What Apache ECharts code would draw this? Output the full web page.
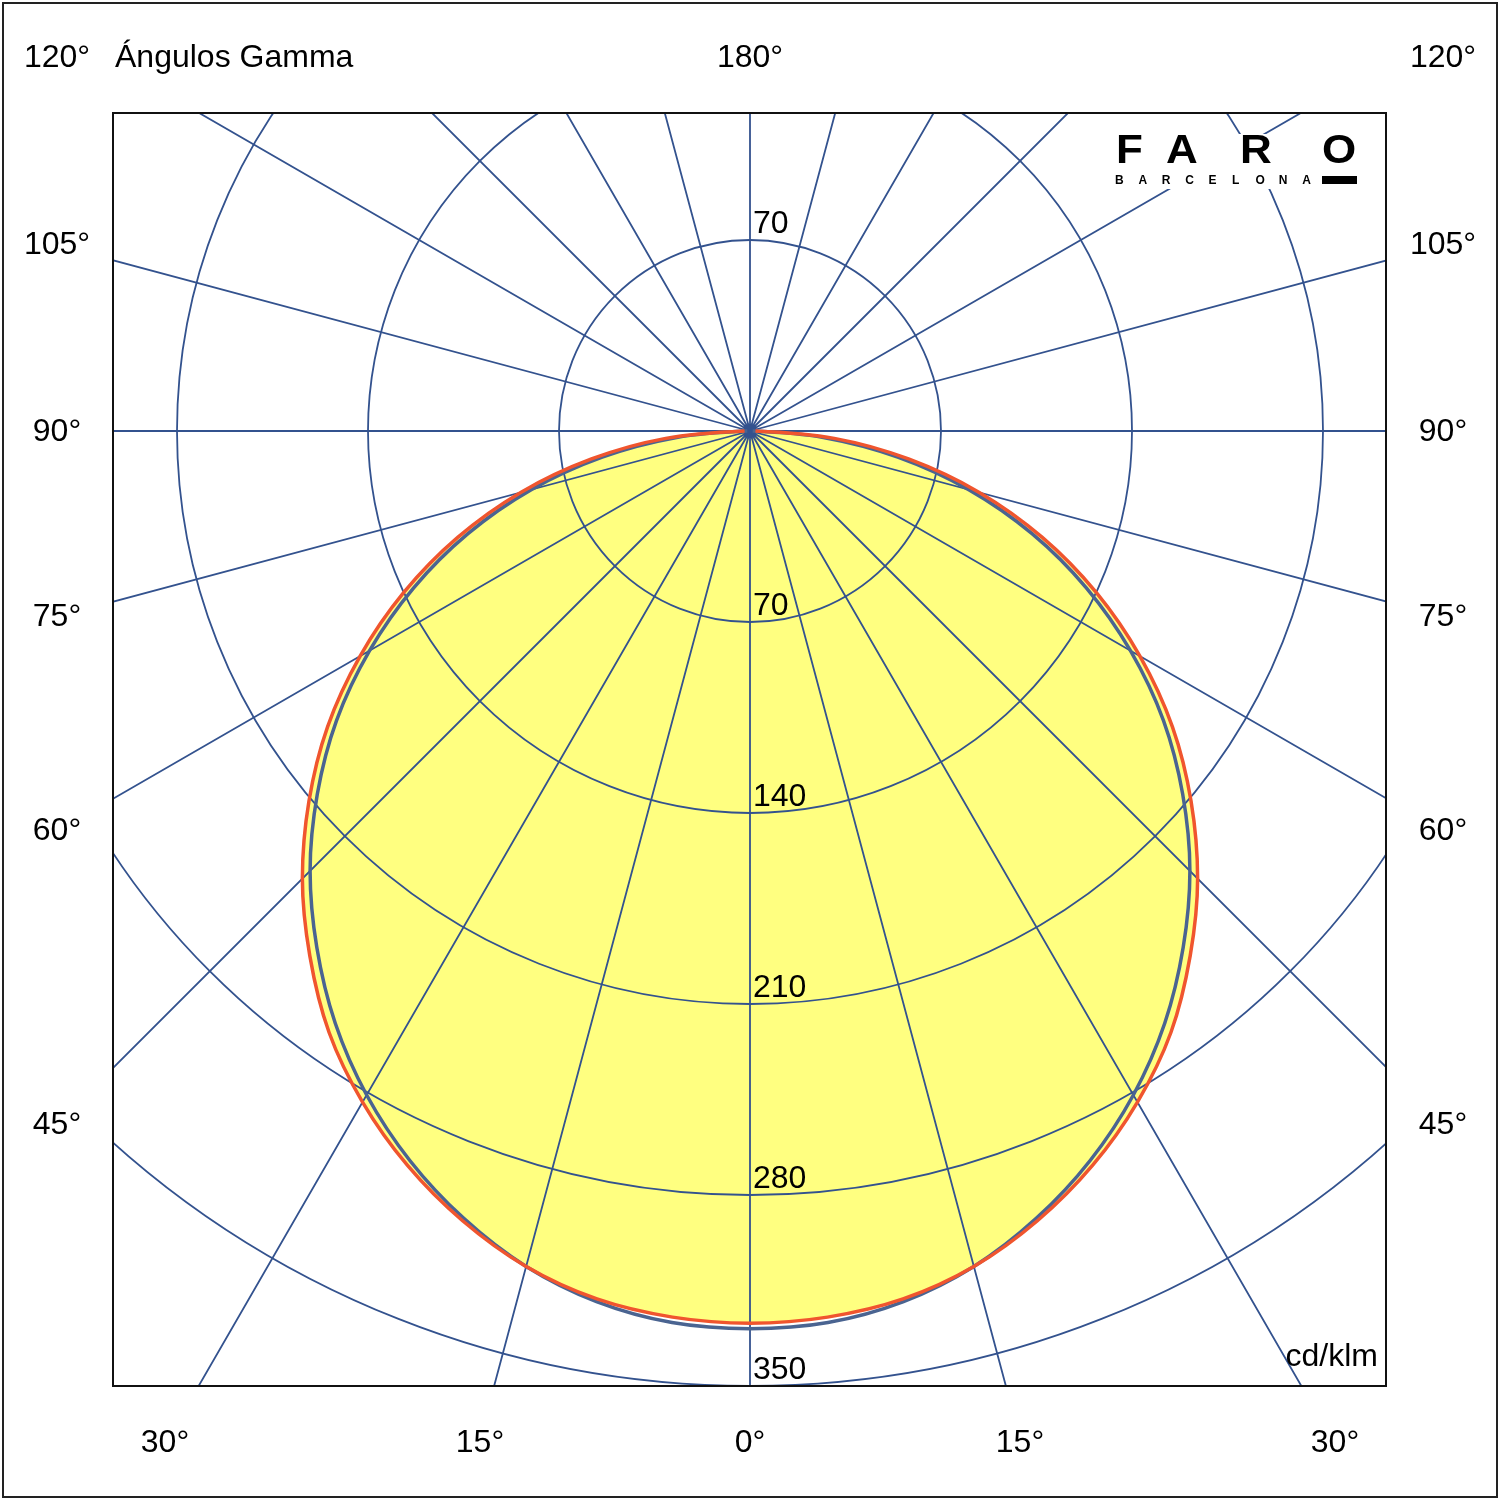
<!DOCTYPE html>
<html>
<head>
<meta charset="utf-8">
<script src="https://cdn.jsdelivr.net/npm/echarts@6/dist/echarts.min.js"></script>
<style>
html,body{margin:0;padding:0;background:#ffffff;}
#chart{width:1500px;height:1500px;}
</style>
</head>
<body>
<div id="chart"></div>
<script>
// ---- data ----
const gammaAngles = [0,5,10,15,20,25,30,35,40,45,50,55,60,65,70,75,80,85,90];
const intensityC0C180 = [327,326,323,317,308,297,284,269,251,232,211,189,165,140,114,87,59,31,2];
const intensityC90C270 = [329,328,324,317,307,295,281,265,247,228,207,185,161,136,110,83,55,27,1];
const ringValues = [70,140,210,280,350];
const upperRingValues = [70];
const radialStep = 15;
const sideAngleLabels = ['120°','105°','90°','75°','60°','45°'];
const bottomAngleLabels = ['30°','15°','0°','15°','30°'];
const topAngleLabel = '180°';
const titleText = 'Ángulos Gamma';
const unitText = 'cd/klm';
const logoWord = ['F','A','R','O'];
const logoSub = 'BARCELONA';

// ---- styles / layout ----
const GRID = '#33528e';
const RED = '#f0552e';
const BLUE = '#4a6491';
const YELLOW = '#ffff80';
const FONT = 'Liberation Sans, Arial, sans-serif';
const CX = 750, CY = 431, R350 = 955;
const FRAME = {x:113, y:113, w:1273, h:1273};
const sideLabelY = [58,245,432,617,831,1125];
const bottomLabelX = [165,480,750,1020,1335];
const logoX = [1116,1166,1240,1322];

function planePoints(values){
  const pts = [];
  for (let i = gammaAngles.length - 1; i >= 0; i--) pts.push([values[i], 360 - gammaAngles[i]]);
  for (let i = 1; i < gammaAngles.length; i++) pts.push([values[i], gammaAngles[i]]);
  return pts;
}
const redPts = planePoints(intensityC0C180);
const bluePts = planePoints(intensityC90C270);
const maxRing = ringValues[ringValues.length - 1];

const ringLabel = {
  show:true, color:'#000', fontFamily:FONT, fontSize:32,
  align:'left', verticalAlign:'bottom',
  formatter: v => (v === 0 ? '' : String(v))
};

const graphics = [];
// masks that clip the polar grid to the frame
graphics.push({type:'rect', z:100, silent:true, shape:{x:0,y:0,width:1500,height:FRAME.y-1}, style:{fill:'#fff'}});
graphics.push({type:'rect', z:100, silent:true, shape:{x:0,y:FRAME.y+FRAME.h+1,width:1500,height:200}, style:{fill:'#fff'}});
graphics.push({type:'rect', z:100, silent:true, shape:{x:0,y:0,width:FRAME.x-1,height:1500}, style:{fill:'#fff'}});
graphics.push({type:'rect', z:100, silent:true, shape:{x:FRAME.x+FRAME.w+1,y:0,width:200,height:1500}, style:{fill:'#fff'}});
// white box behind the logo
graphics.push({type:'rect', z:100, silent:true, shape:{x:1108,y:134,width:256,height:55}, style:{fill:'#fff'}});
// frames
graphics.push({type:'rect', z:101, silent:true, shape:{x:FRAME.x,y:FRAME.y,width:FRAME.w,height:FRAME.h}, style:{fill:null, stroke:'#111', lineWidth:2}});
graphics.push({type:'rect', z:101, silent:true, shape:{x:3,y:3,width:1494,height:1494}, style:{fill:null, stroke:'#222', lineWidth:2}});

function txt(text, x, y, align, size, weight, extra){
  const o = {type:'text', z:102, silent:true, x:x, y:y,
    style:{text:text, fill:'#000', font:(weight||'normal') + ' ' + size + 'px ' + FONT,
      align:align, verticalAlign:'middle', textAlign:align, textVerticalAlign:'middle'}};
  if (extra) Object.assign(o, extra);
  return o;
}
sideAngleLabels.forEach((t,i)=>{
  graphics.push(txt(t, 57, sideLabelY[i], 'center', 32));
  graphics.push(txt(t, 1443, sideLabelY[i], 'center', 32));
});
bottomAngleLabels.forEach((t,i)=>{
  graphics.push(txt(t, bottomLabelX[i], 1443, 'center', 32));
});
graphics.push(txt(topAngleLabel, 750, 58, 'center', 32));
graphics.push(txt(titleText, 115, 58, 'left', 32));
graphics.push(txt(unitText, 1378, 1357, 'right', 32));
// logo
logoWord.forEach((t,i)=>{
  graphics.push(txt(t, logoX[i], 152, 'left', 40, '900', {scaleX:1.1}));
});
logoSub.split('').forEach((t,i)=>{
  graphics.push(txt(t, 1115 + i*23.4, 180.5, 'left', 12, '900'));
});
graphics.push({type:'rect', z:102, silent:true, shape:{x:1322,y:176,width:35,height:8}, style:{fill:'#000'}});

const chart = echarts.init(document.getElementById('chart'), null, {renderer:'canvas'});
chart.setOption({
  backgroundColor:'#ffffff',
  animation:false,
  polar:[
    {center:[CX,CY], radius:R350},                                   // rings + data
    {center:[CX,CY], radius:1250},                                   // radial lines out to the frame
    {center:[CX,CY], radius:R350*upperRingValues[0]/maxRing}         // upper ring label
  ],
  angleAxis:[
    {polarIndex:0, type:'value', min:0, max:360, startAngle:270, clockwise:true, show:false},
    {polarIndex:1, type:'value', min:0, max:360, interval:radialStep, startAngle:270, clockwise:true, z:2,
      axisLine:{show:false}, axisTick:{show:false}, axisLabel:{show:false},
      splitLine:{show:true, lineStyle:{color:GRID, width:1.8}}},
    {polarIndex:2, type:'value', min:0, max:360, startAngle:90, show:false}
  ],
  radiusAxis:[
    {polarIndex:0, type:'value', min:0, max:maxRing, interval:ringValues[0], z:2,
      axisLine:{show:false}, axisTick:{show:false},
      splitLine:{show:true, lineStyle:{color:GRID, width:1.8}},
      axisLabel:Object.assign({margin:3}, ringLabel)},
    {polarIndex:1, type:'value', min:0, max:1, show:false},
    {polarIndex:2, type:'value', min:0, max:upperRingValues[0], interval:upperRingValues[0], z:2,
      axisLine:{show:false}, axisTick:{show:false}, splitLine:{show:false},
      axisLabel:Object.assign({margin:-3}, ringLabel)}
  ],
  series:[
    {type:'custom', coordinateSystem:'polar', polarIndex:0, z:1, silent:true, data:[[0,0]],
      renderItem:function(params, api){
        const pts = redPts.map(p => api.coord(p));
        return {type:'polygon', shape:{points:pts, smooth:0.35}, style:{fill:YELLOW, stroke:null}};
      }},
    {name:'C90-C270', type:'line', coordinateSystem:'polar', polarIndex:0, z:3, data:bluePts,
      symbol:'none', smooth:0.35, lineStyle:{color:BLUE, width:3.5}},
    {name:'C0-C180', type:'line', coordinateSystem:'polar', polarIndex:0, z:4, data:redPts,
      symbol:'none', smooth:0.35, lineStyle:{color:RED, width:3.5}}
  ],
  graphic:{elements:graphics}
});
</script>
</body>
</html>
